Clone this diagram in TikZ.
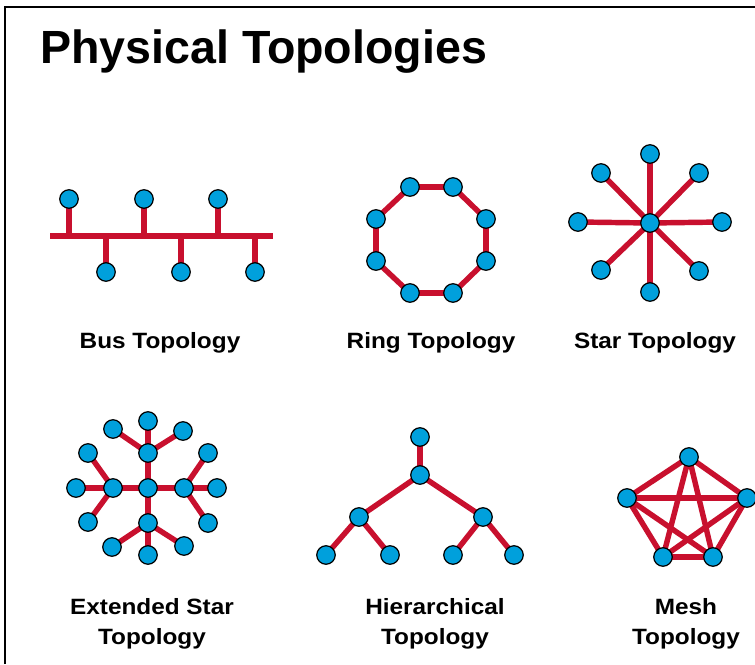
\documentclass[tikz,border=0pt]{standalone}
\usepackage{fontspec}
\setmainfont{Liberation Sans}
\newfontfamily\labelfont{Liberation Sans}[FakeStretch=1.1]
\usepackage{tikz}
\usetikzlibrary{backgrounds}
\usepackage{xcolor}
\definecolor{topo-red}{RGB}{200,16,46}
\definecolor{topo-blue}{RGB}{0,160,220}

\begin{document}
\begin{tikzpicture}[
  x=0.02cm, y=-0.02cm,
  host/.style={circle, draw=black, line width=0.7pt, fill=topo-blue,
               minimum size=0.37cm, inner sep=0pt},
  link/.style={draw=topo-red, line width=3.1pt},
  caption/.style={font=\labelfont\fontsize{12.6}{17.4}\selectfont\bfseries,
                  align=center},
]
\useasboundingbox (0,0) rectangle (755,664);

% title
\node[anchor=base west, font=\fontsize{26.5}{32}\selectfont\bfseries]
  (title) at (34,63) {Physical Topologies};

% bus
\coordinate (busL) at (50,236);
\coordinate (busR) at (273,236);
\node[host] (b1) at (69,199)  {};
\node[host] (b2) at (144,199) {};
\node[host] (b3) at (218,199) {};
\node[host] (b4) at (106,272) {};
\node[host] (b5) at (181,272) {};
\node[host] (b6) at (255,272) {};

% ring
\node[host] (r1) at (410,187) {};
\node[host] (r2) at (453,187) {};
\node[host] (r3) at (486,219) {};
\node[host] (r4) at (486,261) {};
\node[host] (r5) at (453,293) {};
\node[host] (r6) at (410,293) {};
\node[host] (r7) at (376,261) {};
\node[host] (r8) at (376,219) {};

% star
\node[host] (sc) at (650,223) {};
\node[host] (s1) at (650,154) {};
\node[host] (s2) at (699,173) {};
\node[host] (s3) at (722,222) {};
\node[host] (s4) at (699,271) {};
\node[host] (s5) at (650,292) {};
\node[host] (s6) at (601,270) {};
\node[host] (s7) at (578,222) {};
\node[host] (s8) at (601,173) {};

% extended star
\node[host] (ec)  at (148,488) {};
\node[host] (eu)  at (148,453) {};
\node[host] (ed)  at (148,523) {};
\node[host] (el)  at (113,488) {};
\node[host] (er)  at (184,488) {};
\node[host] (eu1) at (113,429) {};
\node[host] (eu2) at (148,421) {};
\node[host] (eu3) at (183,431) {};
\node[host] (el1) at (88,453)  {};
\node[host] (el2) at (76,488)  {};
\node[host] (el3) at (88,522)  {};
\node[host] (er1) at (208,453) {};
\node[host] (er2) at (217,488) {};
\node[host] (er3) at (208,523) {};
\node[host] (ed1) at (112,547) {};
\node[host] (ed2) at (148,555) {};
\node[host] (ed3) at (184,546) {};

% hierarchical
\node[host] (h0) at (420,437) {};
\node[host] (h1) at (420,475) {};
\node[host] (h2) at (359,517) {};
\node[host] (h3) at (483,517) {};
\node[host] (h4) at (326,555) {};
\node[host] (h5) at (390,555) {};
\node[host] (h6) at (453,555) {};
\node[host] (h7) at (514,555) {};

% mesh
\node[host] (m1) at (689,457) {};
\node[host] (m2) at (627,498) {};
\node[host] (m3) at (747,498) {};
\node[host] (m4) at (663,557) {};
\node[host] (m5) at (713,557) {};

\begin{scope}[on background layer]
  \fill[white] (0,0) rectangle (755,664);
  \draw[line width=1.1pt] (5,664) -- (5,7) -- (755,7);
  \draw[link] (busL) -- (busR);
  \foreach \n in {b1,b2,b3,b4,b5,b6}
    \draw[link] (\n.center) -- (\n |- busL);
  \foreach \a/\b in {r1/r2, r2/r3, r3/r4, r4/r5, r5/r6, r6/r7, r7/r8, r8/r1}
    \draw[link] (\a.center) -- (\b.center);
  \foreach \n in {s1,s2,s3,s4,s5,s6,s7,s8}
    \draw[link] (sc.center) -- (\n.center);
  \foreach \a/\b in {ec/eu, ec/ed, ec/el, ec/er, eu/eu1, eu/eu2, eu/eu3,
                     el/el1, el/el2, el/el3, er/er1, er/er2, er/er3,
                     ed/ed1, ed/ed2, ed/ed3}
    \draw[link] (\a.center) -- (\b.center);
  \foreach \a/\b in {h0/h1, h1/h2, h1/h3, h2/h4, h2/h5, h3/h6, h3/h7}
    \draw[link] (\a.center) -- (\b.center);
  \foreach \a/\b in {m1/m2, m1/m3, m1/m4, m1/m5, m2/m3, m2/m4, m2/m5,
                     m3/m4, m3/m5, m4/m5}
    \draw[link] (\a.center) -- (\b.center);
\end{scope}

% captions
\node[caption, anchor=base] (lbus)  at (160,348) {Bus Topology};
\node[caption, anchor=base] (lring) at (431,348) {Ring Topology};
\node[caption, anchor=base] (lstar) at (655,348) {Star Topology};
\node[caption] (lext)  at (152,624) {Extended Star\\Topology};
\node[caption] (lhier) at (435,624) {Hierarchical\\Topology};
\node[caption] (lmesh) at (686,624) {Mesh\\Topology};
\end{tikzpicture}
\end{document}
